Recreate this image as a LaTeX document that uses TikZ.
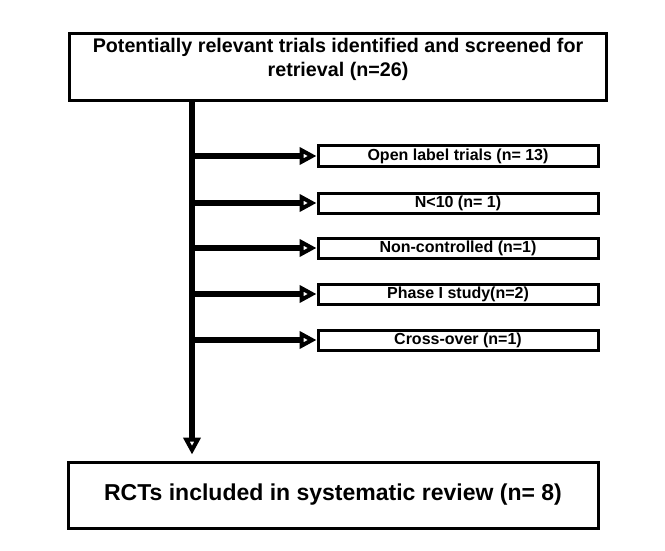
\documentclass[tikz,border=0pt]{standalone}
\usepackage{fontspec}
\setmainfont{Liberation Sans}
\usetikzlibrary{arrows.meta}
\begin{document}
\begin{tikzpicture}[x=1pt,y=1pt,
  box/.style={draw=black, line width=3pt, fill=white, rectangle, inner sep=0pt},
  sidebox/.style={box, minimum width=280pt, minimum height=20pt, font=\bfseries\fontsize{16}{18}\selectfont},
  conn/.style={line width=5.5pt, -{Triangle[open, length=17pt, width=17pt, line width=4pt]}}
]
\useasboundingbox (0,0) rectangle (665,-551);
\node[box, minimum width=537pt, minimum height=67pt, anchor=north west] (top) at (68,-32) {};
\node[anchor=north, align=center, font=\bfseries\fontsize{19.7}{24}\selectfont] (toptext) at ([yshift=-3pt]top.north) {Potentially relevant trials identified and screened for\\retrieval (n=26)};
\node[sidebox] (s1) at (458,-156) {Open label trials (n= 13)};
\node[sidebox] (s2) at (458,-203) {N<10 (n= 1)};
\node[sidebox] (s3) at (458,-248) {Non-controlled (n=1)};
\node[sidebox] (s4) at (458,-294) {Phase I study(n=2)};
\node[sidebox] (s5) at (458,-340) {Cross-over (n=1)};
\node[box, minimum width=530pt, minimum height=66pt, font=\bfseries\fontsize{23}{26}\selectfont] (bot) at (333,-495) {RCTs included in systematic review (n= 8)};
\coordinate (vx) at (192,0);
\draw[conn, shorten >=6pt] (vx |- top.south) -- (vx |- bot.north);
\foreach \s in {s1,s2,s3,s4,s5}{
  \draw[conn] (vx |- \s.west) -- (\s.west);
}
\end{tikzpicture}
\end{document}
